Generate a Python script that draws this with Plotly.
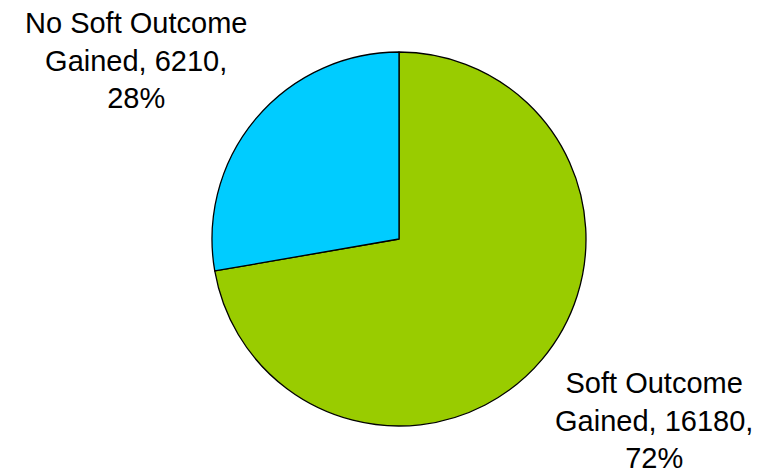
import plotly.graph_objects as go

labels = ["Soft Outcome Gained", "No Soft Outcome Gained"]
values = [16180, 6210]
percents = ["72%", "28%"]
colors = ["#99CC00", "#00CCFF"]

W, H = 761, 474
cx, cy, r = 391, 231, 187

fig = go.Figure(go.Pie(
    labels=labels, values=values, sort=False, direction="clockwise", rotation=0,
    marker=dict(colors=colors, line=dict(color="black", width=1.3)),
    textinfo="none", showlegend=False, hoverinfo="label+value+percent",
    domain=dict(x=[(cx - r) / W, (cx + r) / W], y=[1 - (cy + r) / H, 1 - (cy - r) / H]),
))

font = dict(family="Liberation Sans, Arial, sans-serif", size=29, color="black")
fig.add_annotation(x=128 / W, y=1 - 52 / H, xref="paper", yref="paper",
                   text=f"No Soft Outcome<br>Gained, {values[1]},<br>{percents[1]}",
                   showarrow=False, font=font, align="center", xanchor="center", yanchor="middle")
fig.add_annotation(x=646 / W, y=1 - 412 / H, xref="paper", yref="paper",
                   text=f"Soft Outcome<br>Gained, {values[0]},<br>{percents[0]}",
                   showarrow=False, font=font, align="center", xanchor="center", yanchor="middle")

fig.update_layout(width=W, height=H, margin=dict(l=0, r=0, t=0, b=0),
                  paper_bgcolor="white", plot_bgcolor="white")
fig.write_html("out.html")
